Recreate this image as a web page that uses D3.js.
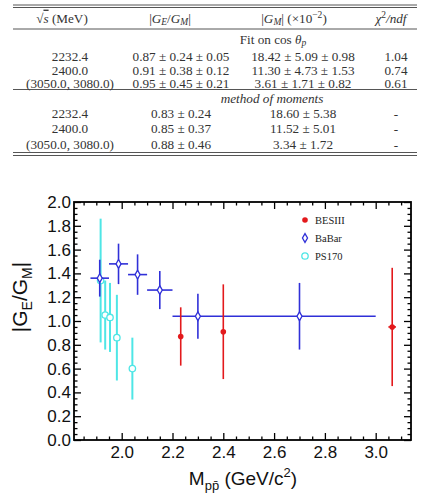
<!DOCTYPE html>
<html>
<head>
<meta charset="utf-8">
<script src="https://cdn.jsdelivr.net/npm/d3@7"></script>
<style>
  body { margin: 0; background: #fff; }
  .tbl { font-family: "Liberation Serif", "DejaVu Serif", serif; font-size: 13.2px; fill: #333; }
  .tick text { font-family: "Liberation Sans", Arial, sans-serif; font-size: 17px; fill: #111; }
  .axlabel { font-family: "Liberation Sans", Arial, sans-serif; fill: #111; }
</style>
</head>
<body>
<div id="chart"></div>
<script>
// table content
const energies = ["2232.4", "2400.0", "(3050.0, 3080.0)"];
const fitRatio = ["0.87 \u00b1 0.24 \u00b1 0.05", "0.91 \u00b1 0.38 \u00b1 0.12", "0.95 \u00b1 0.45 \u00b1 0.21"];
const fitGM = ["18.42 \u00b1 5.09 \u00b1 0.98", "11.30 \u00b1 4.73 \u00b1 1.53", "3.61 \u00b1 1.71 \u00b1 0.82"];
const fitChi2 = ["1.04", "0.74", "0.61"];
const momRatio = ["0.83 \u00b1 0.24", "0.85 \u00b1 0.37", "0.88 \u00b1 0.46"];
const momGM = ["18.60 \u00b1 5.38", "11.52 \u00b1 5.01", "3.34 \u00b1 1.72"];
const momChi2 = ["-", "-", "-"];

// BESIII
const besX = [2.2324, 2.4000, 3.0650];
const besXerr = [0, 0, 0.015];
const besY = [0.87, 0.91, 0.95];
const besYerr = [0.245, 0.398, 0.497];

// BaBar
const babarX = [1.9135, 1.9875, 2.0625, 2.150, 2.300, 2.700];
const babarXerr = [0.0365, 0.0375, 0.0375, 0.050, 0.100, 0.300];
const babarY = [1.36, 1.48, 1.39, 1.26, 1.04, 1.04];
const babarYerr = [0.155, 0.17, 0.17, 0.16, 0.19, 0.28];

// PS170
const psX = [1.917, 1.935, 1.954, 1.981, 2.042];
const psY = [1.34, 1.05, 1.03, 0.86, 0.60];
const psYerr = [0.52, 0.29, 0.29, 0.36, 0.26];

const legendNames = ["BESIII", "BaBar", "PS170"];

const xMajor = [2.0, 2.2, 2.4, 2.6, 2.8, 3.0];
const yMajor = [0, 0.2, 0.4, 0.6, 0.8, 1.0, 1.2, 1.4, 1.6, 1.8, 2.0];

const W = 427, H = 503;
const svg = d3.select("#chart").append("svg")
    .attr("width", W)
    .attr("height", H);

// ---------- table ----------
const tbl = svg.append("g").attr("class", "tbl");
const colX = [70, 181, 303, 396];
const tL = 13, tR = 417;

function rule(y) {
    tbl.append("line").attr("x1", tL).attr("x2", tR).attr("y1", y).attr("y2", y)
        .attr("stroke", "#555").attr("stroke-width", 1);
}
rule(5); rule(7.5);
rule(29);
rule(89.5);
rule(152.5); rule(155.5);

const sub = 9.5;
// header
const hy = 18;
let h = tbl.append("text").attr("x", 62).attr("y", hy).attr("dy", "0.35em").attr("text-anchor", "middle");
h.append("tspan").text("\u221a");
h.append("tspan").attr("font-style", "italic").style("text-decoration", "overline").text("s");
h.append("tspan").text(" (MeV)");

h = tbl.append("text").attr("x", 170).attr("y", hy).attr("dy", "0.35em").attr("text-anchor", "middle");
h.append("tspan").text("|");
h.append("tspan").attr("font-style", "italic").text("G");
h.append("tspan").attr("font-style", "italic").attr("font-size", sub).attr("dy", 2.5).text("E");
h.append("tspan").attr("dy", -2.5).text("/");
h.append("tspan").attr("font-style", "italic").text("G");
h.append("tspan").attr("font-style", "italic").attr("font-size", sub).attr("dy", 2.5).text("M");
h.append("tspan").attr("dy", -2.5).text("|");

h = tbl.append("text").attr("x", 294).attr("y", hy).attr("dy", "0.35em").attr("text-anchor", "middle");
h.append("tspan").text("|");
h.append("tspan").attr("font-style", "italic").text("G");
h.append("tspan").attr("font-style", "italic").attr("font-size", sub).attr("dy", 2.5).text("M");
h.append("tspan").attr("dy", -2.5).text("| (\u00d710");
h.append("tspan").attr("font-size", sub).attr("dy", -5).text("\u22122");
h.append("tspan").attr("dy", 5).text(")");

h = tbl.append("text").attr("x", 391).attr("y", hy).attr("dy", "0.35em").attr("text-anchor", "middle");
h.append("tspan").attr("font-style", "italic").text("\u03c7");
h.append("tspan").attr("font-size", sub).attr("dy", -5).text("2");
h.append("tspan").attr("dy", 5).attr("font-style", "italic").text("/ndf");

h = tbl.append("text").attr("x", 273).attr("y", 39.5).attr("dy", "0.35em").attr("text-anchor", "middle");
h.append("tspan").text("Fit on cos ");
h.append("tspan").attr("font-style", "italic").text("\u03b8");
h.append("tspan").attr("font-style", "italic").attr("font-size", sub).attr("dy", 2).text("p");

tbl.append("text").attr("x", 272).attr("y", 98).attr("dy", "0.35em")
    .attr("text-anchor", "middle").attr("font-style", "italic").text("method of moments");

function block(rowsY, cols) {
    cols.forEach((col, ci) => {
        tbl.selectAll(null).data(col).enter().append("text")
            .attr("x", colX[ci])
            .attr("y", (d, i) => rowsY[i])
            .attr("dy", "0.35em")
            .attr("text-anchor", "middle")
            .text(d => d);
    });
}
block([56.5, 70, 83.5], [energies, fitRatio, fitGM, fitChi2]);
block([113, 128.5, 144], [energies, momRatio, momGM, momChi2]);

// ---------- plot ----------
const margin = {top: 202, right: 16, bottom: 63, left: 74};
const pw = W - margin.left - margin.right,
      ph = H - margin.top - margin.bottom;

const x = d3.scaleLinear().domain([1.8122, 3.139]).range([0, pw]);
const y = d3.scaleLinear().domain([0, 2.0]).range([ph, 0]);

const g = svg.append("g").attr("transform", "translate(" + margin.left + "," + margin.top + ")");

const xMinor = d3.range(37, 63).filter(i => i % 4 !== 0).map(i => i * 0.05);
const yMinor = d3.range(1, 40).filter(i => i % 4 !== 0).map(i => i * 0.05);

function ticks(axisFn, scale, vals, size, tr, labels) {
    const a = axisFn(scale).tickValues(vals).tickSize(-size);
    if (labels) a.tickFormat(d3.format(".1f")).tickPadding(labels);
    else a.tickFormat("");
    const sel = g.append("g").attr("transform", tr).call(a);
    sel.select(".domain").remove();
    sel.selectAll(".tick line").attr("stroke", "#000").attr("stroke-width", 1.3);
    return sel;
}
ticks(d3.axisBottom, x, xMajor, 7, "translate(0," + ph + ")", 6);
ticks(d3.axisBottom, x, xMinor, 3.5, "translate(0," + ph + ")");
ticks(d3.axisTop, x, xMajor, 7, "translate(0,0)");
ticks(d3.axisTop, x, xMinor, 3.5, "translate(0,0)");
ticks(d3.axisLeft, y, yMajor, 7, "translate(0,0)", 3);
ticks(d3.axisLeft, y, yMinor, 3.5, "translate(0,0)");
ticks(d3.axisRight, y, yMajor, 7, "translate(" + pw + ",0)");
ticks(d3.axisRight, y, yMinor, 3.5, "translate(" + pw + ",0)");

g.append("rect").attr("width", pw).attr("height", ph)
    .attr("fill", "none").attr("stroke", "#000").attr("stroke-width", 1.8);

const cRed = "#e3191c", cBlue = "#3030d8", cCyan = "#4ee6e6";

function errBars(xs, ys, xe, ye, color, w) {
    const pts = xs.map((d, i) => ({x: d, y: ys[i], xe: xe ? xe[i] : 0, ye: ye[i]}));
    const eg = g.append("g").attr("stroke", color).attr("stroke-width", w);
    eg.selectAll(null).data(pts).enter().append("line")
        .attr("x1", d => x(d.x)).attr("x2", d => x(d.x))
        .attr("y1", d => y(d.y - d.ye)).attr("y2", d => y(d.y + d.ye));
    eg.selectAll(null).data(pts.filter(d => d.xe > 0)).enter().append("line")
        .attr("x1", d => x(d.x - d.xe)).attr("x2", d => x(d.x + d.xe))
        .attr("y1", d => y(d.y)).attr("y2", d => y(d.y));
    return pts;
}

// PS170
const psPts = errBars(psX, psY, null, psYerr, cCyan, 2);
g.selectAll(null).data(psPts).enter().append("circle")
    .attr("cx", d => x(d.x)).attr("cy", d => y(d.y)).attr("r", 3.2)
    .attr("fill", "#fff").attr("stroke", cCyan).attr("stroke-width", 1.3);

// BaBar
const bbPts = errBars(babarX, babarY, babarXerr, babarYerr, cBlue, 1.6);
const diamond = d3.symbol().type(d3.symbolDiamond).size(22);
g.selectAll(null).data(bbPts).enter().append("path")
    .attr("d", diamond)
    .attr("transform", d => "translate(" + x(d.x) + "," + y(d.y) + ")")
    .attr("fill", "#fff").attr("stroke", cBlue).attr("stroke-width", 1.3);

// BESIII
const bsPts = errBars(besX, besY, besXerr, besYerr, cRed, 1.6);
g.selectAll(null).data(bsPts).enter().append("circle")
    .attr("cx", d => x(d.x)).attr("cy", d => y(d.y)).attr("r", 2.8)
    .attr("fill", cRed);

// legend
const lg = svg.append("g").attr("transform", "translate(305,220)");
const items = lg.selectAll(null).data(legendNames).enter().append("g")
    .attr("transform", (d, i) => "translate(0," + i * 18 + ")");
items.append("text").attr("x", 10).attr("dy", "0.35em")
    .attr("font-family", "Liberation Serif, serif").attr("font-size", 10.5).attr("fill", "#222")
    .text(d => d);
items.filter((d, i) => i === 0).append("circle").attr("r", 2.8).attr("fill", cRed);
items.filter((d, i) => i === 1).append("path").attr("d", diamond)
    .attr("fill", "#fff").attr("stroke", cBlue).attr("stroke-width", 1.3);
items.filter((d, i) => i === 2).append("circle").attr("r", 3.2)
    .attr("fill", "#fff").attr("stroke", cCyan).attr("stroke-width", 1.3);

// axis titles
const yl = svg.append("text").attr("class", "axlabel")
    .attr("transform", "translate(27,297) rotate(-90)")
    .attr("text-anchor", "middle").attr("font-size", 21);
yl.append("tspan").text("|G");
yl.append("tspan").attr("font-size", 14).attr("dy", 5).text("E");
yl.append("tspan").attr("dy", -5).text("/G");
yl.append("tspan").attr("font-size", 14).attr("dy", 5).text("M");
yl.append("tspan").attr("dy", -5).text("|");

const xl = svg.append("text").attr("class", "axlabel")
    .attr("x", 243).attr("y", 485)
    .attr("text-anchor", "middle").attr("font-size", 19);
xl.append("tspan").text("M");
xl.append("tspan").attr("font-size", 13).attr("dy", 5).text("pp\u0304");
xl.append("tspan").attr("dy", -5).text(" (GeV/c");
xl.append("tspan").attr("font-size", 13).attr("dy", -8).text("2");
xl.append("tspan").attr("dy", 8).text(")");
</script>
</body>
</html>
